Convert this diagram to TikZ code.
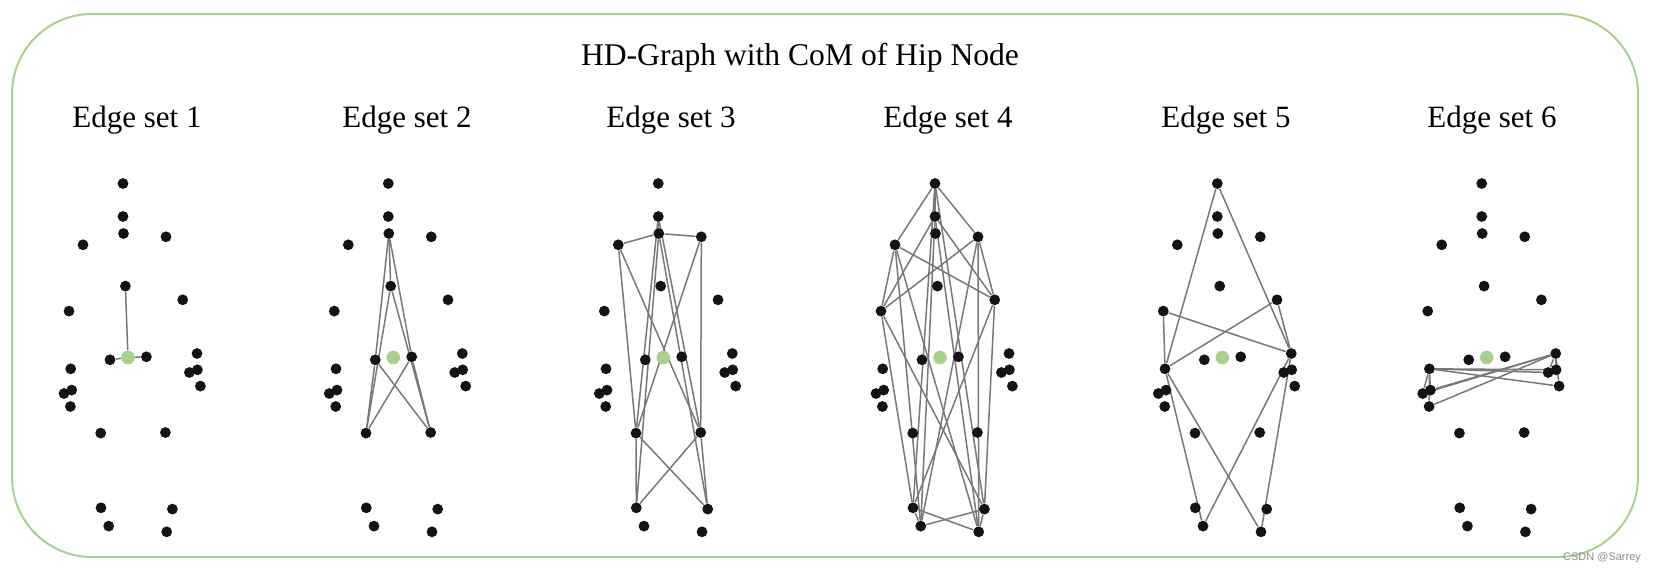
\documentclass[tikz,border=0pt]{standalone}
\usepackage{fontspec}
\setmainfont{Liberation Serif}
\newfontfamily\marksans{Liberation Sans}
\usepackage{tikz}
\usetikzlibrary{positioning}
\usepackage{xcolor}

\definecolor{comgreen}{RGB}{169,209,142}
\definecolor{linkgray}{RGB}{120,120,120}

\pgfdeclarelayer{background}
\pgfsetlayers{background,main}

\tikzset{
    joint/.style={circle, fill=black!92, inner sep=0pt, minimum size=5.4pt},
    comjoint/.style={circle, fill=comgreen, inner sep=0pt, minimum size=6.8pt},
    link/.style={linkgray, line width=0.75pt},
    setlabel/.style={font=\fontsize{15.5}{18}\selectfont, anchor=base},
}

% joints of one skeleton: #1 = name prefix, #2 = x of the head
\newcommand{\bodyjoints}[2]{
    \begin{scope}[shift={(#2,183.5)}]
        \foreach \jn/\jx/\jy in {hd/0/0, nk/0/33, ss/0.5/50, shl/-40/61.3, shr/43/53.3,
            sm/2.4/102.6, elr/59.7/116.3, ell/-54/127.6, hl/-13/176.3, hr/23.4/173.3,
            wrl/-52.3/185.3, hal/-51.3/206.6, thl/-59/210, tpl/-52.6/223,
            wrr/74/170, har/66.4/189, thr/74.4/186.3, tpr/77.4/202.6,
            knl/-22.3/249.6, knr/42.4/249, anl/-22/324.3, anr/49.4/325.6,
            ftl/-14.3/342.6, ftr/43.7/348.3}
            \node[joint] (#1\jn) at (\jx,\jy) {};
        \node[comjoint] (#1com) at (5,174) {};
    \end{scope}
}

% all edges between two levels of the hierarchy
\newcommand{\linklevels}[3]{
    \begin{pgfonlayer}{background}
        \foreach \u in {#2}
            \foreach \v in {#3}
                \draw[link] (#1\u) -- (#1\v);
    \end{pgfonlayer}
}

\begin{document}
\begin{tikzpicture}[x=0.5pt, y=-0.5pt]
    \useasboundingbox (0,0) rectangle (1657,574);

    % Frame and titles
    \draw[comgreen, line width=1pt, rounded corners=40pt] (12,14) rectangle (1638,557);
    \node[setlabel, font=\fontsize{15.8}{18}\selectfont] (title) at (800,65.5) {HD-Graph with CoM of Hip Node};
    \foreach \k/\lx in {1/137, 2/407, 3/671, 4/948, 5/1226, 6/1492}
        \node[setlabel] (lab\k) at (\lx,127) {Edge set \k};

    % Edge set 1
    \bodyjoints{a-}{123}
    \linklevels{a-}{com}{sm,hl,hr}

    % Edge set 2
    \bodyjoints{b-}{388.3}
    \linklevels{b-}{sm,hl,hr}{ss,knl,knr}

    % Edge set 3
    \bodyjoints{c-}{658.3}
    \linklevels{c-}{ss,knl,knr}{nk,shl,shr,anl,anr}

    % Edge set 4
    \bodyjoints{d-}{935}
    \linklevels{d-}{nk,shl,shr,anl,anr}{hd,ell,elr,ftl,ftr}

    % Edge set 5
    \bodyjoints{e-}{1217.3}
    \linklevels{e-}{hd,ell,elr,ftl,ftr}{wrl,wrr}

    % Edge set 6
    \bodyjoints{f-}{1481.7}
    \linklevels{f-}{wrl,wrr}{hal,thl,tpl,har,thr,tpr}

    \node[font=\marksans\fontsize{5.5}{6}\selectfont, text=black!45] (mark) at (1602,558) {CSDN @Sarrey};
\end{tikzpicture}
\end{document}
